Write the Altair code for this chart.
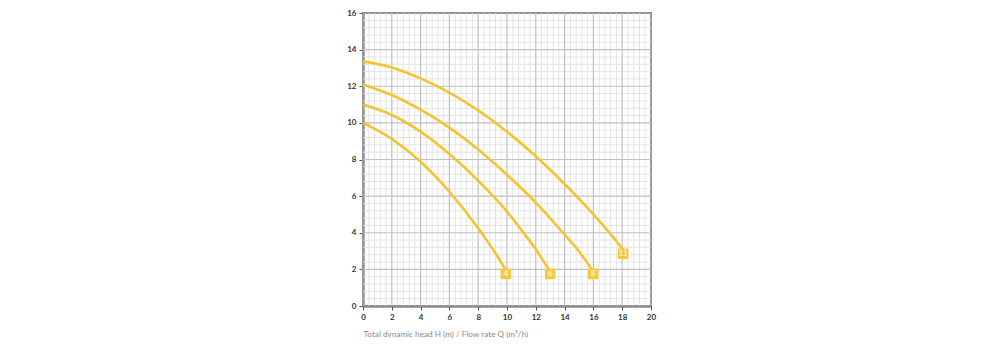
import altair as alt
import pandas as pd

# Pump curves: flow rate Q (m3/h) vs head H (m)
q_4 = [0, 2, 4, 6, 8, 9, 9.9]
h_4 = [10.0, 9.13, 7.88, 6.24, 4.25, 3.12, 2.0]

q_6 = [0, 2, 4, 6, 8, 10, 11, 12, 12.9]
h_6 = [11.0, 10.43, 9.52, 8.3, 6.85, 5.15, 4.15, 3.1, 2.0]

q_8 = [0, 2, 4, 6, 8, 10, 12, 14, 15, 15.9]
h_8 = [12.1, 11.52, 10.72, 9.74, 8.55, 7.17, 5.65, 3.9, 2.98, 2.0]

q_11 = [0, 2, 4, 6, 8, 10, 12, 14, 16, 17, 18.05]
h_11 = [13.36, 13.03, 12.43, 11.65, 10.68, 9.52, 8.18, 6.66, 5.0, 4.1, 3.1]

marker_labels = ["4", "6", "8", "11"]
marker_q = [9.92, 13.0, 15.98, 18.07]
marker_h = [1.75, 1.75, 1.75, 2.85]

x_ticks = [0, 2, 4, 6, 8, 10, 12, 14, 16, 18, 20]
y_ticks = [0, 2, 4, 6, 8, 10, 12, 14, 16]

x_title = "Total dynamic head H (m) / Flow rate Q (m³/h)"

YELLOW = "#F4C430"
FONT = "Lato"

rows = []
for name, qs, hs in [("4", q_4, h_4), ("6", q_6, h_6), ("8", q_8, h_8), ("11", q_11, h_11)]:
    for qv, hv in zip(qs, hs):
        rows.append({"model": name, "q": qv, "h": hv})
curves = pd.DataFrame(rows)
markers = pd.DataFrame({"label": marker_labels, "q": marker_q, "h": marker_h})

minor_x = pd.DataFrame({"q": [round(i * 0.4, 2) for i in range(51) if i % 5 != 0]})
minor_y = pd.DataFrame({"h": [round(i * 0.4, 2) for i in range(41) if i % 5 != 0]})
major_x = pd.DataFrame({"q": x_ticks})
major_y = pd.DataFrame({"h": y_ticks})

xs = alt.Scale(domain=[0, 20], nice=False, zero=False)
ys = alt.Scale(domain=[0, 16], nice=False, zero=False)
x_axis = alt.Axis(values=x_ticks, grid=False, title=x_title, labelFlush=False,
                  titleAnchor="start", titleAlign="left",
                  titleFontSize=8.2, titleFontWeight="normal",
                  titleColor="#8a8a8a", titlePadding=9, titleFont=FONT)
y_axis = alt.Axis(values=y_ticks, grid=False, title=None, labelFlush=False)

X = alt.X("q:Q", scale=xs, axis=x_axis)
Y = alt.Y("h:Q", scale=ys, axis=y_axis)

minor_v = alt.Chart(minor_x).mark_rule(color="#e4e4e4", strokeWidth=1).encode(x=X)
minor_h = alt.Chart(minor_y).mark_rule(color="#e4e4e4", strokeWidth=1).encode(y=Y)
major_v = alt.Chart(major_x).mark_rule(color="#c0c0c0", strokeWidth=1.2).encode(x=X)
major_h = alt.Chart(major_y).mark_rule(color="#c0c0c0", strokeWidth=1.2).encode(y=Y)

lines = alt.Chart(curves).mark_line(color=YELLOW, strokeWidth=2.6, interpolate="monotone").encode(
    x=X, y=Y, detail="model:N")

squares = alt.Chart(markers).mark_square(color="#F7CA3C", size=110, opacity=1).encode(x=X, y=Y)
texts = alt.Chart(markers).mark_text(color="white", fontSize=7.5, font=FONT,
                                     baseline="middle", align="center").encode(
    x=X, y=Y, text="label:N")

chart = alt.layer(minor_v, minor_h, major_v, major_h, lines, squares, texts).properties(
    width=288, height=293,
    autosize=alt.AutoSizeParams(type="none"),
    padding={"left": 363, "top": 13, "right": 349, "bottom": 44},
).configure_view(stroke="#666666", strokeWidth=2).configure_axis(
    labelFont=FONT, labelFontSize=8, labelColor="#333333", labelFontWeight="bold",
    tickColor="#555555", tickSize=4, tickWidth=1, domainColor="#555555", domainWidth=2,
    labelPadding=3,
)

chart.save("out.html", embed_options={"renderer": "svg", "actions": False})
